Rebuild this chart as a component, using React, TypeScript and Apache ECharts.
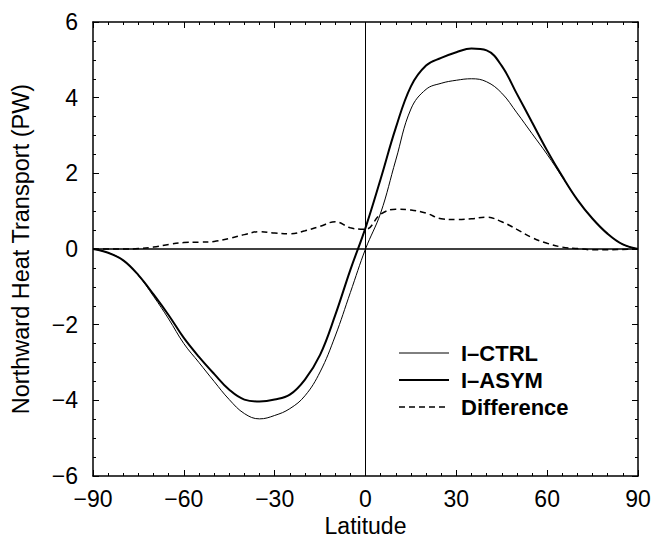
import React, { useEffect, useRef } from "react";
import * as echarts from "echarts";

const latitudes = [-90, -85, -80, -75, -70, -65, -60, -55, -50, -45, -40, -35, -30, -25, -20, -15, -10, -5, 0, 5, 10, 15, 20, 25, 30, 35, 40, 45, 50, 55, 60, 65, 70, 75, 80, 85, 90];
const ctrl = [0, -0.1, -0.3, -0.7, -1.25, -1.85, -2.5, -3.0, -3.5, -3.98, -4.35, -4.49, -4.4, -4.22, -3.88, -3.25, -2.3, -1.15, 0, 0.95, 2.35, 3.7, 4.22, 4.38, 4.46, 4.5, 4.42, 4.12, 3.6, 3.05, 2.5, 1.9, 1.3, 0.8, 0.4, 0.12, 0];
const asym = [0, -0.1, -0.3, -0.69, -1.2, -1.75, -2.35, -2.85, -3.3, -3.72, -3.98, -4.03, -3.98, -3.85, -3.45, -2.8, -1.75, -0.55, 0.56, 1.85, 3.2, 4.3, 4.85, 5.05, 5.2, 5.3, 5.25, 4.84, 4.1, 3.35, 2.6, 1.92, 1.3, 0.8, 0.4, 0.12, 0];
const diff = [0, 0, 0, 0.01, 0.05, 0.12, 0.17, 0.18, 0.2, 0.28, 0.38, 0.46, 0.42, 0.4, 0.48, 0.6, 0.72, 0.56, 0.52, 0.92, 1.05, 1.03, 0.95, 0.8, 0.78, 0.8, 0.84, 0.72, 0.52, 0.3, 0.15, 0.05, 0.01, -0.02, -0.02, -0.01, 0];
const xTicks = { min: -90, max: 90, interval: 30 };
const yTicks = { min: -6, max: 6, interval: 2 };
const names = ["I\u2013CTRL", "I\u2013ASYM", "Difference"];

const FONT = "Liberation Sans";
const fmt = (v: number) => String(v).replace("-", "\u2212");

export default function App() {
  const ref = useRef<HTMLDivElement>(null);
  useEffect(() => {
    const chart = echarts.init(ref.current!, undefined, { renderer: "svg" });
    const pair = (arr: number[]) => latitudes.map((x, i) => [x, arr[i]]);
    const axisLine = { show: true, onZero: false, lineStyle: { color: "#000", width: 1.5 } };
    const tick = { show: true, inside: true, length: 6, lineStyle: { color: "#000", width: 1 } };
    const minor = { show: true, length: 3, lineStyle: { color: "#000", width: 1 } };
    chart.setOption({
      animation: false,
      grid: { left: 93, right: 14, top: 22, bottom: 63, containLabel: false, outerBoundsMode: "none" },
      legend: {
        orient: "vertical",
        left: 393,
        top: 337,
        itemWidth: 50,
        itemHeight: 22,
        itemGap: 5,
        itemStyle: { opacity: 0 },
        textStyle: { fontFamily: FONT, fontWeight: "bold", fontSize: 22, color: "#000", padding: [0, 0, 0, 7] },
        data: [
          { name: names[0], lineStyle: { width: 1, color: "#000" } },
          { name: names[1], lineStyle: { width: 2, color: "#000" } },
          { name: names[2], lineStyle: { width: 1.5, color: "#000", type: [6, 4] } },
        ],
      },
      xAxis: [
        {
          type: "value", ...xTicks, position: "bottom",
          axisLine, axisTick: tick, minorTick: { ...minor, splitNumber: 6 }, splitLine: { show: false },
          axisLabel: { formatter: fmt, fontFamily: FONT, fontSize: 23, color: "#000", margin: 11 },
          name: "Latitude", nameLocation: "middle", nameGap: 37,
          nameTextStyle: { fontFamily: FONT, fontSize: 23, color: "#000" },
        },
        {
          type: "value", ...xTicks, position: "top",
          axisLine, axisTick: tick, minorTick: { ...minor, splitNumber: 6 }, splitLine: { show: false },
          axisLabel: { show: false },
        },
      ],
      yAxis: [
        {
          type: "value", ...yTicks, position: "left",
          axisLine, axisTick: tick, minorTick: { ...minor, splitNumber: 4 }, splitLine: { show: false },
          axisLabel: { formatter: fmt, fontFamily: FONT, fontSize: 23, color: "#000", margin: 15 },
          name: "Northward Heat Transport (PW)", nameLocation: "middle", nameGap: 60,
          nameTextStyle: { fontFamily: FONT, fontSize: 23.5, color: "#000" },
        },
        {
          type: "value", ...yTicks, position: "right",
          axisLine, axisTick: tick, minorTick: { ...minor, splitNumber: 4 }, splitLine: { show: false },
          axisLabel: { show: false },
        },
      ],
      series: [
        {
          name: names[0], type: "line", data: pair(ctrl), smooth: 0.4, symbol: "none",
          lineStyle: { color: "#000", width: 1 }, itemStyle: { color: "#000" },
          markLine: {
            silent: true, symbol: ["none", "none"], label: { show: false },
            data: [
              { yAxis: 0, lineStyle: { color: "#000", width: 1.5, type: "solid" } },
              { xAxis: 0, lineStyle: { color: "#000", width: 1, type: "solid" } },
            ],
          },
        },
        {
          name: names[1], type: "line", data: pair(asym), smooth: 0.4, symbol: "none",
          lineStyle: { color: "#000", width: 2 }, itemStyle: { color: "#000" },
        },
        {
          name: names[2], type: "line", data: pair(diff), smooth: 0.4, symbol: "none",
          lineStyle: { color: "#000", width: 1.5, type: [6, 4] }, itemStyle: { color: "#000" },
        },
      ],
    });
    return () => chart.dispose();
  }, []);
  return <div ref={ref} style={{ position: "fixed", left: 0, top: 0, width: 652, height: 539, background: "#fff" }} />;
}
